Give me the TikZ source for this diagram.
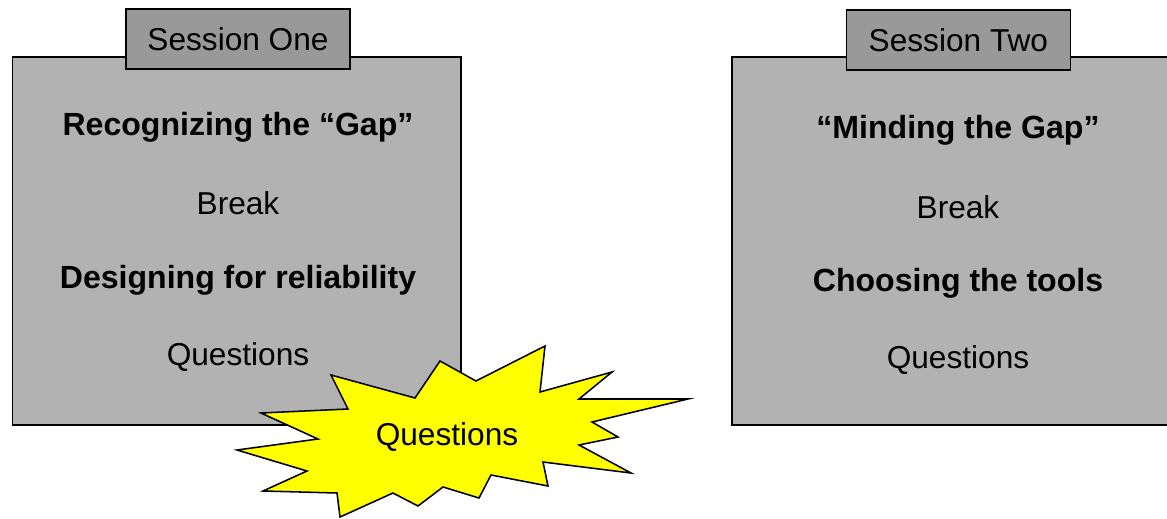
\documentclass[tikz,border=0pt]{standalone}
\usepackage{fontspec}
\setmainfont{Liberation Sans}
\definecolor{ink}{HTML}{000000}
\definecolor{boxf}{HTML}{B2B2B2}
\definecolor{tabf}{HTML}{999999}
\definecolor{burstf}{HTML}{FFFF00}
\tikzset{
  session/.style={draw=ink,fill=boxf,line width=1.1pt,minimum width=11.22cm,minimum height=9.2cm,inner sep=0pt},
  tab/.style={draw=ink,fill=tabf,line width=1.1pt,minimum width=5.6cm,minimum height=1.5cm,inner sep=0pt,font=\fontsize{22.5}{27}\selectfont},
  item/.style={inner sep=1pt,text=ink,font=\fontsize{22.5}{27}\selectfont},
  topic/.style={item,font=\fontsize{22.8}{27}\selectfont\bfseries},
  burst/.style={draw=ink,fill=burstf,line width=1.1pt,line join=miter}
}
\begin{document}
\begin{tikzpicture}[x=1cm,y=1cm]
\clip (0,0) rectangle (29.175,12.95);
% session one
\node[session] (one) at (5.92,6.925) {};
\node[tab] (onetab) at (5.95,11.975) {Session One};
\node[topic] (gap)    at (5.95,9.775) {Recognizing the “Gap”};
\node[item]  (brk1)   at (5.95,7.875) {Break};
\node[topic] (design) at (5.95,5.95)  {Designing for reliability};
\node[item]  (q1)     at (5.95,4.025) {Questions};
% session two
\node[session,minimum width=11.3cm] (two) at (23.95,6.925) {};
\node[tab] (twotab) at (23.96,11.95) {Session Two};
\node[topic] (mind)   at (23.95,9.7)   {“Minding the Gap”};
\node[item]  (brk2)   at (23.95,7.775) {Break};
\node[topic] (tools)  at (23.95,5.875) {Choosing the tools};
\node[item]  (q2)     at (23.95,3.95)  {Questions};
% burst over the first box
\filldraw[burst] (13.625,4.3) -- (13.5,3.15) -- (15.3,3.65) -- (14.475,2.975) -- (17.2,2.975)
  -- (14.8,2.4) -- (15.45,2.025) -- (14.475,1.825) -- (15.775,1.125) -- (13.575,1.4)
  -- (13.7,0.8) -- (12.275,1.075) -- (11.975,0.5) -- (11.075,0.775) -- (10.45,0.3)
  -- (9.825,0.625) -- (8.5,0.025) -- (8.425,0.625) -- (6.575,0.675) -- (7.675,1.175)
  -- (5.925,1.7) -- (7.95,1.975) -- (6.525,2.625) -- (8.7,2.725) -- (8.275,3.575)
  -- (10.375,3.0) -- (11.0,3.925) -- (11.9,3.425) -- cycle;
\node[item] (qburst) at (11.175,2.025) {Questions};
\end{tikzpicture}
\end{document}
